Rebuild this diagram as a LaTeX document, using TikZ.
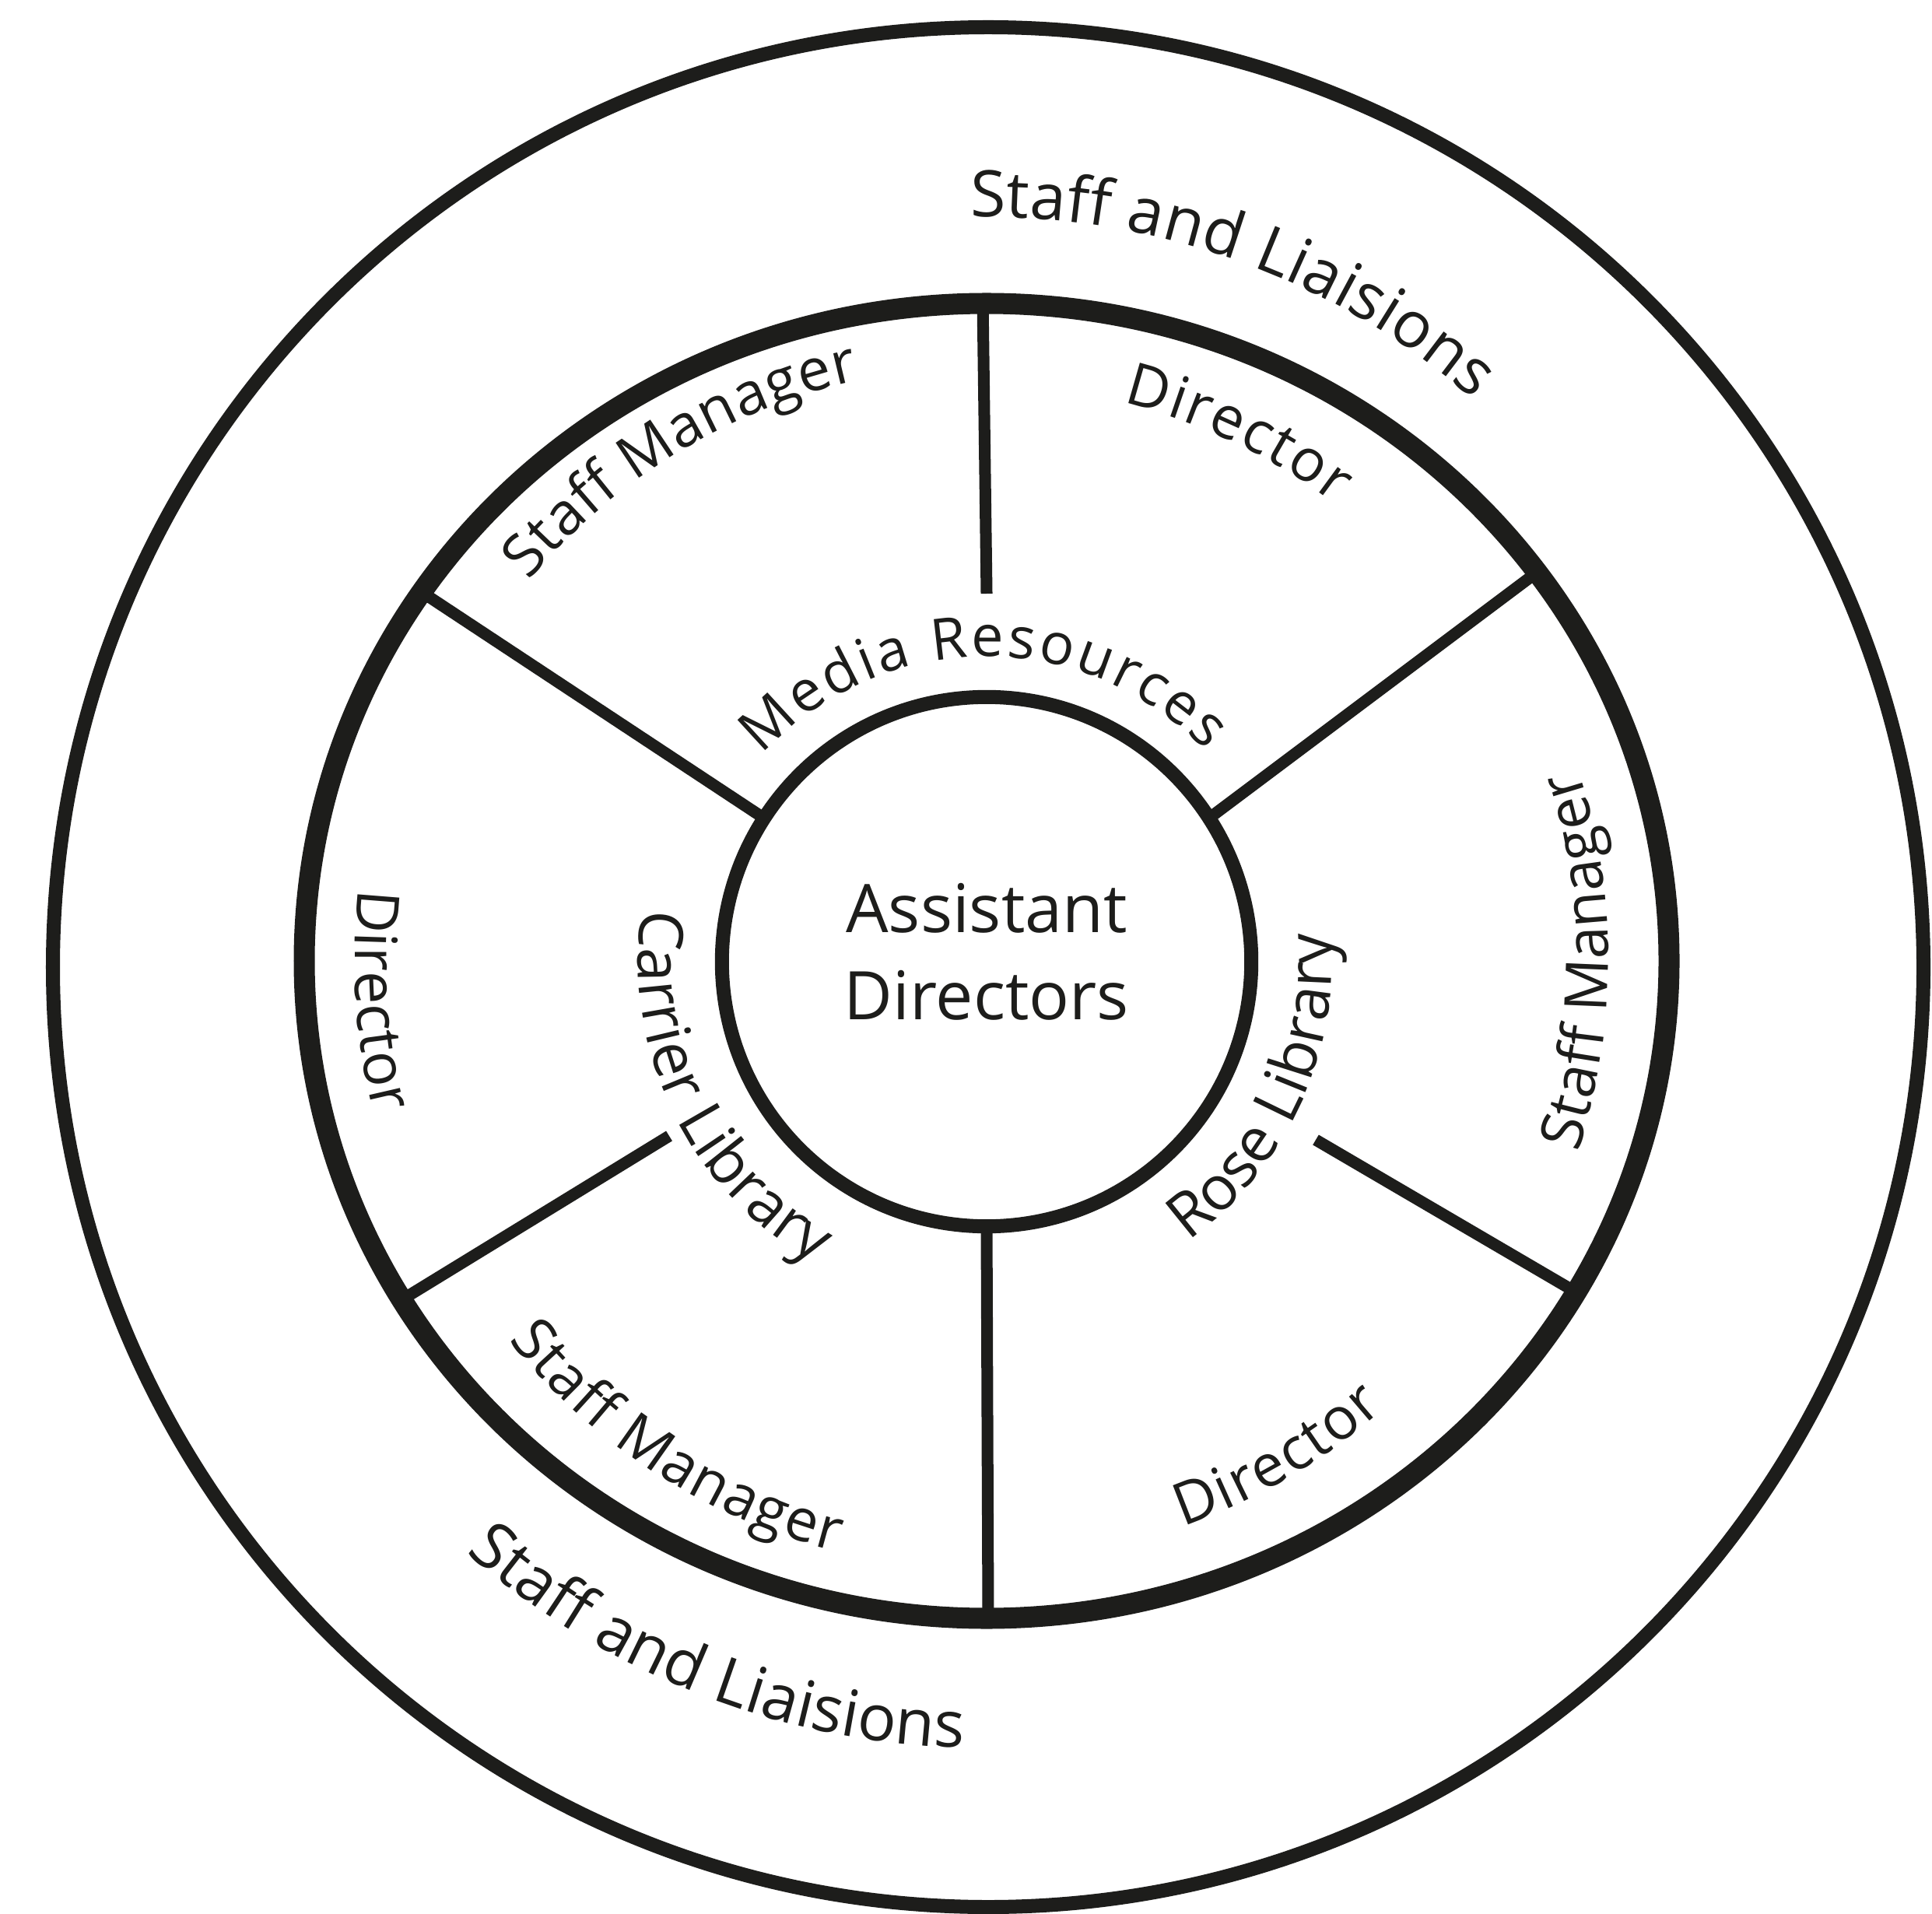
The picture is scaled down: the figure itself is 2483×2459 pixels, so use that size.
\documentclass[tikz,border=0pt]{standalone}
\usepackage{fontspec}
\setmainfont{Open Sans}
\usetikzlibrary{decorations.text}
\definecolor{ink}{HTML}{1D1D1B}
\newcommand\arclabel[5]{%
  \path[decorate,decoration={text along path, text align=fit to path,
    text color=ink, text={|\fontsize{#4}{#4}\selectfont|#5}}]
    ([shift={(c)}]#2:#1) arc[start angle=#2, end angle=#3, radius=#1];}
\begin{document}
\begin{tikzpicture}[x=0.01cm,y=0.01cm,
  outerring/.style={draw=ink, line width=0.18cm},
  midring/.style={draw=ink, line width=0.27cm},
  hub/.style={draw=ink, circle, line width=0.18cm, minimum size=6.8cm, inner sep=0pt},
  title/.style={align=center, text=ink, font=\fontsize{24.5}{31.9}\selectfont},
  spoke/.style={draw=ink, line width=0.15cm}]
\useasboundingbox (0,0) rectangle (2483,2459);
\fill[white] (0,0) rectangle (2483,2459);
\coordinate (c) at (1267,1225);
% rings
\draw[outerring] (1270,1216) ellipse[x radius=1202, y radius=1208];
\draw[midring] (1268,1224) ellipse[x radius=877, y radius=845];
\node[hub] (inner) at (1268,1223) {};
\node[title] (hubtext) at (1268,1236) {Assistant\\Directors};
% spoke end points
\coordinate (t1) at (1263,2075); \coordinate (t2) at (1268,1696);
\coordinate (ur1) at (1980,1727); \coordinate (ur2) at (1552,1406);
\coordinate (ul1) at (539,1700); \coordinate (ul2) at (984,1406);
\coordinate (ll1) at (514,787); \coordinate (ll2) at (860,999);
\coordinate (lr1) at (2031,795); \coordinate (lr2) at (1691,994);
\coordinate (b1) at (1268,885); \coordinate (b2) at (1270,380);
\draw[spoke] (t1) -- (t2);
\draw[spoke] (ur1) -- (ur2);
\draw[spoke] (ul1) -- (ul2);
\draw[spoke] (ll1) -- (ll2);
\draw[spoke] (lr1) -- (lr2);
\draw[spoke] (b1) -- (b2);
% labels
\arclabel{955}{91.2}{49}{23.5}{Staff and Liaisions}
\arclabel{1013}{228.7}{268.4}{23.5}{Staff and Liaisions}
\arclabel{738}{76.2}{52.6}{21.5}{Director}
\arclabel{763}{140.3}{102.3}{21.5}{Staff Manager}
\arclabel{800}{-18}{17.8}{21.5}{Staff Manager}
\arclabel{811}{173.5}{194.1}{21.5}{Director}
\arclabel{784}{218.5}{255.8}{21.5}{Staff Manager}
\arclabel{771}{289.2}{311.6}{21.5}{Director}
\arclabel{390}{137.4}{43.6}{21}{Media Resources}
\arclabel{447}{171.6}{240.7}{22.5}{Carrier Library}
\arclabel{445}{-54.3}{3.5}{22.5}{Rose Library}
\end{tikzpicture}
\end{document}
